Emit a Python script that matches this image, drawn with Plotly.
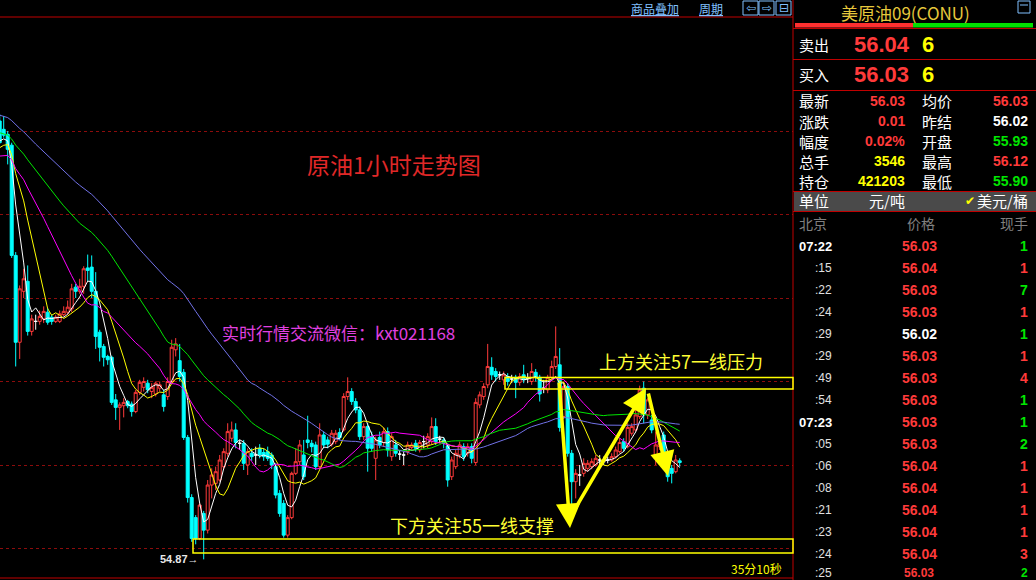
import plotly.graph_objects as go
import pandas as pd

W, H = 1036, 580

# ---------------- data ----------------
# closes before the first visible bar (off screen, only feed the moving averages)
prior_close = [60.70, 60.75, 60.68, 60.62, 60.58, 60.66, 60.72, 60.64, 60.55, 60.50,
               60.58, 60.63, 60.60, 60.54, 60.60, 60.66, 60.62, 60.56, 60.52, 60.49,
               60.45, 60.40, 60.42, 60.35, 60.30, 60.36, 60.32, 60.28, 60.25, 60.30,
               60.22, 60.18, 60.24, 60.20, 60.15, 60.18, 60.12, 60.16, 60.10, 60.17,
               59.85, 59.72, 59.60, 59.55, 59.48, 59.52, 59.58, 59.50, 59.56, 59.64,
               59.66, 59.70, 59.74, 59.72, 59.78, 59.82, 59.90, 59.94, 59.88]

open_ = [60.12, 60.02, 59.96, 59.83, 58.51, 57.47, 58.08, 58.20, 57.60, 57.72,
         57.72, 57.75, 57.83, 57.77, 57.72, 57.72, 57.80, 57.83, 57.87, 58.13,
         58.08, 58.14, 58.36, 58.37, 58.08, 57.59, 57.42, 57.30, 57.29, 56.78,
         56.69, 56.71, 56.76, 56.73, 56.64, 56.87, 56.93, 56.98, 56.88, 56.85,
         56.92, 56.84, 56.82, 57.00, 57.38, 57.25, 57.11, 56.33, 55.61, 55.37,
         55.12, 55.42, 55.22, 55.76, 55.78, 55.82, 55.98, 56.14, 56.32, 56.42,
         56.26, 56.26, 56.00, 56.14, 56.12, 56.20, 56.15, 56.16, 56.12, 55.98,
         55.66, 55.54, 55.16, 55.37, 55.90, 56.04, 56.12, 56.30, 56.26, 56.24,
         55.98, 56.36, 56.30, 56.25, 56.28, 56.39, 56.42, 56.82, 56.88, 56.76,
         56.66, 56.34, 56.46, 56.34, 56.08, 56.33, 56.27, 56.40, 56.10, 56.24,
         56.13, 56.12, 56.16, 56.21, 56.26, 56.18, 56.28, 56.24, 56.28, 56.46,
         56.31, 56.30, 56.23, 55.86, 55.98, 56.12, 56.22, 56.14, 56.22, 56.03,
         56.72, 56.82, 56.96, 57.17, 57.12, 57.08, 57.02, 57.06, 57.03, 57.05,
         56.99, 57.08, 57.04, 57.00, 57.11, 57.05, 56.92, 56.90, 57.05, 57.18,
         57.20, 56.58, 56.94, 56.14, 55.80, 55.88, 55.90, 55.96, 55.98, 56.00,
         56.06, 56.04, 56.06, 56.06, 56.10, 56.16, 56.28, 56.22, 56.38, 56.42,
         56.58, 56.92, 56.60, 56.54, 56.12, 56.22, 56.36, 56.06, 55.96, 55.92,
         56.05]
high = [60.20, 60.18, 60.00, 59.86, 58.55, 58.15, 58.35, 58.39, 57.80, 57.80,
        57.85, 57.90, 57.88, 57.80, 57.80, 57.85, 57.90, 57.97, 58.17, 58.17,
        58.23, 58.38, 58.52, 58.51, 58.31, 57.62, 57.45, 57.32, 57.31, 56.85,
        56.75, 56.80, 56.78, 56.76, 56.90, 57.02, 57.05, 57.02, 56.98, 57.00,
        57.00, 56.90, 57.05, 57.50, 57.52, 57.45, 57.15, 56.36, 55.65, 55.40,
        55.55, 55.45, 55.82, 55.96, 55.98, 56.12, 56.20, 56.50, 56.52, 56.50,
        56.30, 56.30, 56.20, 56.20, 56.22, 56.25, 56.20, 56.22, 56.15, 56.02,
        55.70, 55.58, 55.40, 55.92, 56.20, 56.30, 56.30, 56.59, 56.30, 56.28,
        56.50, 56.40, 56.34, 56.42, 56.42, 56.44, 56.86, 57.05, 56.92, 56.80,
        56.70, 56.50, 56.50, 56.40, 56.34, 56.40, 56.45, 56.45, 56.38, 56.30,
        56.18, 56.16, 56.28, 56.27, 56.30, 56.30, 56.35, 56.38, 56.57, 56.56,
        56.35, 56.33, 56.26, 56.10, 56.18, 56.28, 56.26, 56.26, 56.26, 56.80,
        56.88, 56.98, 57.45, 57.29, 57.16, 57.12, 57.12, 57.10, 57.08, 57.08,
        57.10, 57.20, 57.10, 57.22, 57.15, 57.08, 57.02, 57.08, 57.25, 57.66,
        57.40, 57.00, 56.98, 56.18, 55.95, 56.00, 56.08, 56.06, 56.08, 56.12,
        56.12, 56.10, 56.10, 56.14, 56.22, 56.32, 56.32, 56.50, 56.50, 56.66,
        56.95, 57.00, 56.80, 56.60, 56.40, 56.30, 56.40, 56.10, 56.00, 56.12,
        56.08]
low = [59.85, 59.92, 59.60, 58.48, 57.18, 57.27, 58.00, 57.55, 57.55, 57.62,
       57.68, 57.70, 57.68, 57.68, 57.70, 57.70, 57.78, 57.80, 57.83, 58.00,
       58.05, 58.05, 58.20, 58.00, 57.39, 57.24, 57.18, 57.20, 56.72, 56.54,
       56.42, 56.57, 56.68, 56.58, 56.62, 56.84, 56.88, 56.86, 56.80, 56.82,
       56.88, 56.64, 56.78, 56.98, 57.30, 57.00, 56.30, 55.55, 55.08, 55.05,
       55.10, 54.87, 55.18, 55.60, 55.70, 55.80, 55.95, 56.10, 56.28, 56.20,
       56.18, 55.94, 55.88, 56.05, 56.00, 56.08, 56.05, 56.05, 55.95, 55.60,
       55.38, 55.13, 55.13, 55.35, 55.88, 56.00, 55.82, 56.20, 56.15, 55.94,
       55.95, 56.20, 56.20, 56.22, 56.25, 56.30, 56.40, 56.78, 56.72, 56.62,
       56.30, 56.30, 55.92, 56.16, 55.82, 56.20, 56.22, 56.10, 56.05, 56.10,
       56.06, 56.00, 56.12, 56.18, 56.16, 56.15, 56.20, 56.20, 56.25, 56.24,
       56.26, 56.20, 55.74, 55.82, 55.95, 56.08, 56.05, 56.10, 56.02, 56.00,
       56.68, 56.78, 56.92, 57.02, 57.00, 57.02, 56.96, 56.95, 56.98, 56.80,
       56.95, 56.98, 56.98, 56.96, 57.00, 56.76, 56.86, 56.86, 57.02, 57.15,
       56.40, 56.55, 56.10, 55.42, 55.60, 55.75, 55.86, 55.92, 55.95, 55.98,
       55.98, 56.00, 56.02, 56.04, 56.08, 56.14, 56.16, 56.20, 56.35, 56.40,
       56.55, 56.50, 56.55, 56.38, 56.00, 56.18, 55.95, 55.80, 55.78, 55.90,
       55.98]
close = [59.86, 59.95, 59.78, 58.51, 57.47, 58.11, 58.23, 57.60, 57.75, 57.72,
         57.78, 57.84, 57.71, 57.72, 57.77, 57.81, 57.84, 57.89, 58.11, 58.08,
         58.14, 58.35, 58.33, 58.08, 57.54, 57.41, 57.29, 57.26, 56.75, 56.69,
         56.72, 56.75, 56.71, 56.64, 56.87, 56.99, 57.00, 56.90, 56.93, 56.98,
         56.96, 56.70, 57.00, 57.41, 57.45, 57.06, 56.33, 55.61, 55.12, 55.12,
         55.52, 55.22, 55.76, 55.88, 55.92, 56.06, 56.16, 56.40, 56.42, 56.27,
         56.26, 56.02, 56.16, 56.10, 56.12, 56.12, 56.10, 56.08, 56.00, 55.64,
         55.42, 55.16, 55.37, 55.90, 56.04, 56.24, 55.86, 56.27, 56.22, 55.98,
         56.36, 56.24, 56.25, 56.38, 56.38, 56.33, 56.82, 56.88, 56.76, 56.66,
         56.34, 56.46, 56.20, 56.20, 56.30, 56.24, 56.40, 56.18, 56.34, 56.14,
         56.13, 56.12, 56.24, 56.24, 56.20, 56.27, 56.28, 56.34, 56.46, 56.28,
         56.31, 56.26, 55.82, 56.06, 56.14, 56.24, 56.10, 56.22, 56.08, 56.75,
         56.84, 56.94, 57.18, 57.08, 57.06, 57.08, 57.08, 57.00, 57.03, 56.99,
         57.06, 57.02, 57.04, 57.12, 57.05, 56.85, 56.92, 57.05, 57.18, 57.30,
         56.45, 56.94, 56.14, 55.80, 55.90, 55.88, 56.02, 56.02, 56.04, 56.08,
         56.06, 56.04, 56.06, 56.10, 56.18, 56.27, 56.20, 56.45, 56.46, 56.60,
         56.90, 56.60, 56.78, 56.42, 56.24, 56.26, 56.00, 55.86, 55.90, 56.06,
         56.03]

ma_periods = [5, 10, 20, 40, 60]
ma_colors = ["#ffffff", "#ffff00", "#ff00ff", "#00e600", "#7272e8"]
grid_prices = [55, 56, 57, 58, 59, 60]
low_mark = "54.87"

panel_title = "美原油09(CONU)"
ask = ("卖出", "56.04", "6")
bid = ("买入", "56.03", "6")
left_labels = ["最新", "涨跌", "幅度", "总手", "持仓"]
left_values = ["56.03", "0.01", "0.02%", "3546", "421203"]
left_kinds = ["up", "up", "up", "vol", "vol"]
right_labels = ["均价", "昨结", "开盘", "最高", "最低"]
right_values = ["56.03", "56.02", "55.93", "56.12", "55.90"]
right_kinds = ["up", "flat", "down", "up", "down"]

tick_times = ["07:22", ":15", ":22", ":24", ":29", ":29", ":49", ":54",
              "07:23", ":05", ":06", ":08", ":21", ":23", ":24", ":25"]
tick_prices = ["56.03", "56.04", "56.03", "56.03", "56.02", "56.03", "56.03", "56.03",
               "56.03", "56.03", "56.04", "56.04", "56.04", "56.04", "56.04", "56.03"]
tick_vols = ["1", "1", "7", "1", "1", "1", "4", "1", "1", "2", "1", "1", "1", "1", "3", "2"]
tick_vol_kinds = ["down", "up", "down", "up", "down", "up", "up", "down",
                  "down", "down", "up", "up", "up", "up", "up", "down"]
prev_settle = 56.02

# ---------------- styling ----------------
RED = "#ff3a3a"
GREEN = "#00e600"
YELLOW = "#ffff00"
WHITE = "#ffffff"
CYAN = "#00ffff"
BORDER = "#c00000"
LINKBLUE = "#80c0ff"
CJK = "Noto Sans CJK SC"
NUM = "Liberation Sans"
KIND_COLOR = {"up": RED, "down": GREEN, "flat": WHITE, "vol": YELLOW}

PANEL_X = 793
PLOT_TOP, PLOT_BOT = 18, 565
PX_PER_UNIT = 83.5
Y55 = 548.5
y_lo = 55 - (PLOT_BOT - Y55) / PX_PER_UNIT
y_hi = 55 + (Y55 - PLOT_TOP) / PX_PER_UNIT
BAR_PX = 4.0
X0_PX = -0.3
x_lo = (0 - X0_PX) / BAR_PX
x_hi = (PANEL_X - X0_PX) / BAR_PX


def PX(x):
    return x / W


def PY(y):
    return 1 - y / H


# ---------------- figure ----------------
fig = go.Figure()

idx = list(range(len(close)))
groups = [
    ([i for i in idx if close[i] > open_[i]], RED, "#000000"),
    ([i for i in idx if close[i] < open_[i]], CYAN, CYAN),
    ([i for i in idx if close[i] == open_[i]], WHITE, WHITE),
]
for sel, lc, fc in groups:
    fig.add_trace(go.Candlestick(
        x=sel,
        open=[open_[i] for i in sel], high=[high[i] for i in sel],
        low=[low[i] for i in sel], close=[close[i] for i in sel],
        increasing=dict(line=dict(color=lc, width=1), fillcolor=fc),
        decreasing=dict(line=dict(color=lc, width=1), fillcolor=fc),
        whiskerwidth=0, hoverinfo="skip", showlegend=False,
    ))

all_close = pd.Series(prior_close + close)
n_prior = len(prior_close)
for p, col in zip(ma_periods, ma_colors):
    ma = all_close.rolling(p).mean().iloc[n_prior:].tolist()
    fig.add_trace(go.Scatter(x=idx, y=ma, mode="lines",
                             line=dict(color=col, width=1),
                             hoverinfo="skip", showlegend=False))

shapes = []
annots = []


def line(x0, y0, x1, y1, color, width=1, dash=None):
    shapes.append(dict(type="line", xref="paper", yref="paper",
                       x0=PX(x0), y0=PY(y0), x1=PX(x1), y1=PY(y1),
                       line=dict(color=color, width=width, dash=dash)))


def rect(x0, y0, x1, y1, color=None, fill=None, width=1):
    shapes.append(dict(type="rect", xref="paper", yref="paper",
                       x0=PX(x0), y0=PY(y0), x1=PX(x1), y1=PY(y1),
                       line=dict(color=color or "rgba(0,0,0,0)", width=width),
                       fillcolor=fill or "rgba(0,0,0,0)", layer="above"))


def txt(x, y, s, color, size, anchor="left", family=CJK, bold=False):
    annots.append(dict(xref="paper", yref="paper", x=PX(x), y=PY(y),
                       text=("<b>%s</b>" % s) if bold else s, showarrow=False,
                       xanchor=anchor, yanchor="middle",
                       font=dict(family=family, size=size, color=color)))


def arrow(tx, ty, hx, hy):
    annots.append(dict(xref="paper", yref="paper", x=PX(hx), y=PY(hy),
                       ax=tx - hx, ay=ty - hy, axref="pixel", ayref="pixel",
                       text="", showarrow=True, arrowhead=2, arrowsize=1.4,
                       arrowwidth=3.5, arrowcolor=YELLOW, standoff=0))


# chart frame lines
line(0, 17, PANEL_X, 17, BORDER)
line(0, 578, PANEL_X, 578, BORDER)
line(PANEL_X, 0, PANEL_X, H, BORDER)

# toolbar
txt(629, 8, "<u>商品叠加</u>", LINKBLUE, 12)
txt(697, 8, "<u>周期</u>", LINKBLUE, 12)
for x0, sym in [(743, "⇦"), (759, "⇨"), (776, "⊟")]:
    rect(x0, 1, x0 + 15, 15, color=LINKBLUE)
    txt(x0 + 7.5, 8, sym, LINKBLUE, 12, anchor="center", family="DejaVu Sans")

# chart texts
txt(394, 164, "原油1小时走势图", "#e02828", 23, anchor="center")
txt(220, 332, "实时行情交流微信：kxt021168", "#e040e0", 17)
txt(597, 361, "上方关注57一线压力", "#ffff33", 18)
txt(388, 525, "下方关注55一线支撑", "#ffff33", 18)
txt(158, 559, low_mark + "→", "#e8e8e8", 11, family=NUM, bold=True)
txt(729, 568, "35分10秒", YELLOW, 12)

# user boxes and arrows
rect(505, 377.5, 793, 389, color=YELLOW, width=1.5)
rect(193, 539, 793, 553, color=YELLOW, width=1.5)
arrow(559, 381, 570, 528)
arrow(572, 514, 646, 388)
arrow(648, 392, 668, 476)

# ---------------- quote panel ----------------
txt(905, 12, panel_title, "#e6c83c", 17, anchor="center")
rect(1018, 1, 1030, 13, color=LINKBLUE)
line(1020, 5, 1028, 5, LINKBLUE)
rect(795, 23, 913, 27.5, fill="#ff3030")
rect(913, 23, 1033, 27.5, fill="#00e000")
rect(794, 191.5, W, 211.5, fill="#4a4a4a")
for yy in [28.5, 59.5, 90.5, 191.5, 211.5]:
    line(PANEL_X, yy, W, yy, BORDER)

for (lab, price, vol), yy in [(ask, 44), (bid, 75)]:
    txt(797, yy, lab, WHITE, 15)
    txt(852, yy, price, RED, 22, family=NUM, bold=True)
    txt(920, yy, vol, YELLOW, 22, family=NUM, bold=True)

for r in range(5):
    yy = 101 + 20 * r
    txt(797, yy, left_labels[r], WHITE, 15)
    txt(907, yy, left_values[r], KIND_COLOR[left_kinds[r]], 14, anchor="right",
        family=NUM, bold=True)
    txt(920, yy, right_labels[r], WHITE, 15)
    txt(1030, yy, right_values[r], KIND_COLOR[right_kinds[r]], 14, anchor="right",
        family=NUM, bold=True)

txt(797, 201, "单位", WHITE, 15)
txt(907, 201, "元/吨", WHITE, 15, anchor="right")
txt(970, 201, "✔", YELLOW, 12, anchor="center", family="DejaVu Sans")
txt(1030, 201, "美元/桶", WHITE, 15, anchor="right")

txt(797, 223, "北京", "#808080", 14)
txt(921, 223, "价格", "#808080", 14, anchor="center")
txt(1030, 223, "现手", "#808080", 14, anchor="right")

n_rows = len(tick_times)
for r in range(n_rows):
    last = r == n_rows - 1
    yy = 246 + 22 * r - (3 if last else 0)
    t = tick_times[r]
    full = not t.startswith(":")
    fs = 12 if last else 14
    txt(834, yy, t, WHITE if full else "#e0e0e0", 13 if full else 12,
        anchor="right", family=NUM, bold=full)
    pv = float(tick_prices[r])
    pc = RED if pv > prev_settle else (GREEN if pv < prev_settle else WHITE)
    txt(919, yy, tick_prices[r], pc, fs, anchor="center", family=NUM, bold=True)
    txt(1030, yy, tick_vols[r], KIND_COLOR[tick_vol_kinds[r]], fs, anchor="right",
        family=NUM, bold=True)

fig.update_layout(
    width=W, height=H, margin=dict(l=0, r=0, t=0, b=0),
    paper_bgcolor="#000000", plot_bgcolor="#000000",
    boxgap=0.25, boxgroupgap=0, boxmode="overlay",
    xaxis=dict(domain=[0, PX(PANEL_X)], range=[x_lo, x_hi], showgrid=False,
               zeroline=False, showticklabels=False, rangeslider=dict(visible=False),
               fixedrange=True, showline=False),
    yaxis=dict(domain=[PY(PLOT_BOT), PY(PLOT_TOP)], range=[y_lo, y_hi],
               tickvals=grid_prices, showgrid=True, gridcolor="#8c0c0c",
               griddash="dot", gridwidth=1, showticklabels=False, zeroline=False,
               fixedrange=True, showline=False),
    shapes=shapes, annotations=annots, showlegend=False,
)

fig.write_html("out.html", config={"displayModeBar": False},
               post_script="document.body.style.margin='0';document.body.style.background='#000';")
